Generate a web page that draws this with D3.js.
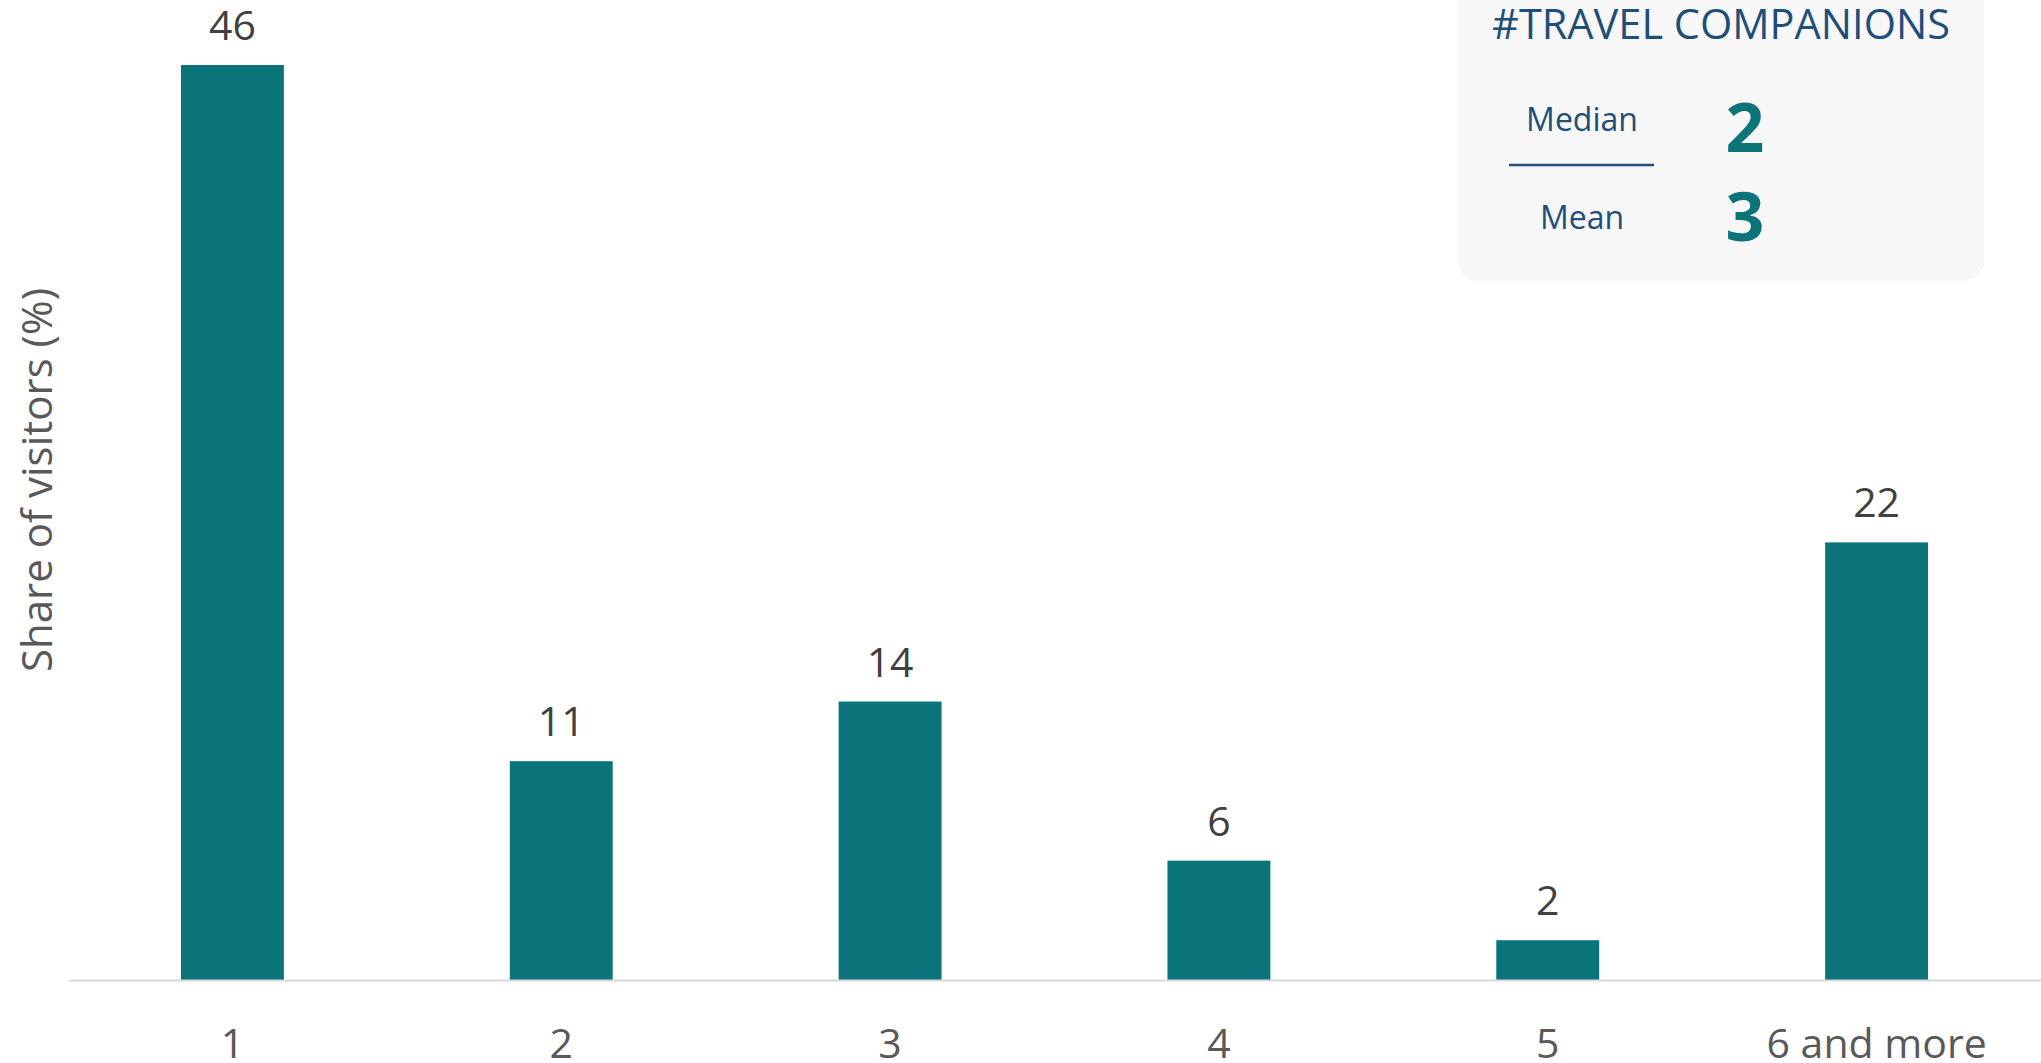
<!DOCTYPE html>
<html>
<head>
<meta charset="utf-8">
<script src="https://cdn.jsdelivr.net/npm/d3@7"></script>
<style>
  html, body { margin: 0; padding: 0; background: #ffffff; }
  svg { display: block; }
  text { font-family: "Open Sans", "Noto Sans", sans-serif; }
</style>
</head>
<body>
<svg id="chart" width="2041" height="1063"></svg>
<script>
// Number of travel companions and share of visitors (%)
const categories = ["1", "2", "3", "4", "5", "6 and more"];
const shares = [46, 11, 14, 6, 2, 22];

// Summary figures shown in the side panel
const statLabels = ["Median", "Mean"];
const statValues = [2, 3];
const panelTitle = "#TRAVEL COMPANIONS";

const W = 2041, H = 1063;
const svg = d3.select("#chart");

const x = d3.scaleBand()
  .domain(categories)
  .range([68, W])
  .paddingInner(0.687)
  .paddingOuter(0.3435);

const y = d3.scaleLinear()
  .domain([0, d3.max(shares)])
  .range([980, 65]);

// Bars
svg.append("g")
  .selectAll("rect")
  .data(shares)
  .join("rect")
  .attr("x", (d, i) => x(categories[i]))
  .attr("y", d => y(d))
  .attr("width", x.bandwidth())
  .attr("height", d => y(0) - y(d))
  .attr("fill", "#0b737a");

// Value labels
svg.append("g")
  .selectAll("text")
  .data(shares)
  .join("text")
  .attr("x", (d, i) => x(categories[i]) + x.bandwidth() / 2)
  .attr("y", d => y(d) - 25)
  .attr("text-anchor", "middle")
  .attr("font-size", 41)
  .attr("fill", "#404040")
  .text(d => d);

// Category axis
const xAxis = svg.append("g")
  .attr("transform", `translate(0,${y(0)})`)
  .call(d3.axisBottom(x).tickSize(0).tickPadding(0));
xAxis.select(".domain")
  .attr("stroke", "#d9d9d9")
  .attr("stroke-width", 2);
xAxis.selectAll(".tick text")
  .attr("y", 78)
  .attr("dy", 0)
  .attr("font-size", 41)
  .attr("font-family", "'Open Sans', sans-serif")
  .attr("fill", "#595959");

// Value axis title
svg.append("text")
  .attr("transform", "translate(52,480) rotate(-90)")
  .attr("text-anchor", "middle")
  .attr("font-size", 42)
  .attr("fill", "#595959")
  .text("Share of visitors (%)");

// Summary panel
const panel = svg.append("g");
panel.append("rect")
  .attr("x", 1458)
  .attr("y", -40)
  .attr("width", 526)
  .attr("height", 321)
  .attr("rx", 20)
  .attr("fill", "#f7f7f7");

panel.append("text")
  .attr("x", 1721)
  .attr("y", 39)
  .attr("text-anchor", "middle")
  .attr("font-size", 41.5)
  .attr("fill", "#1f4e79")
  .text(panelTitle);

const rowY = d3.scalePoint().domain(statLabels).range([131, 229]);
const numY = d3.scalePoint().domain(statLabels).range([152, 241]);

panel.selectAll("text.stat-label")
  .data(statLabels)
  .join("text")
  .attr("class", "stat-label")
  .attr("x", 1582)
  .attr("y", d => rowY(d))
  .attr("text-anchor", "middle")
  .attr("font-size", 32)
  .attr("fill", "#1f4e79")
  .text(d => d);

panel.append("line")
  .attr("x1", 1509).attr("x2", 1654)
  .attr("y1", 165).attr("y2", 165)
  .attr("stroke", "#22507a")
  .attr("stroke-width", 2.5);

panel.selectAll("text.stat-value")
  .data(statValues)
  .join("text")
  .attr("class", "stat-value")
  .attr("x", 1745)
  .attr("y", (d, i) => numY(statLabels[i]))
  .attr("text-anchor", "middle")
  .attr("font-size", 68)
  .attr("font-weight", 700)
  .attr("fill", "#0b7479")
  .text(d => d);
</script>
</body>
</html>
